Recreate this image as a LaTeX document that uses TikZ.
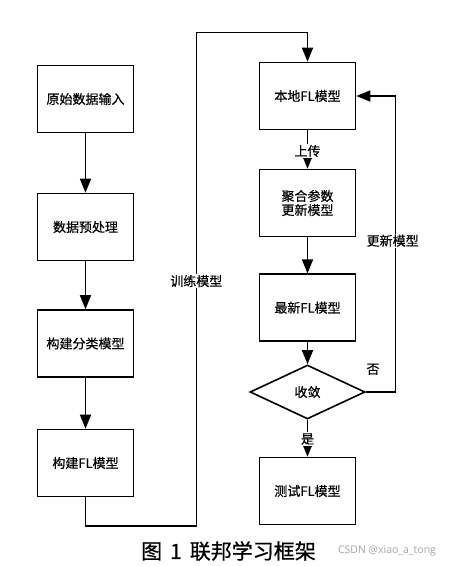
\documentclass[tikz,border=0pt]{standalone}
\usepackage{fontspec}
\setmainfont{Noto Sans CJK SC}
\newfontfamily\cjk[FakeBold=0.4]{Noto Sans CJK SC}
\newfontfamily\capfont[FakeBold=0.6]{Noto Sans CJK SC}
\newfontfamily\wmfont{Open Sans}
\usetikzlibrary{shapes.geometric,arrows.meta}
\begin{document}
\begin{tikzpicture}[x=1pt,y=-1pt,
  box/.style={draw,line width=1.6pt,minimum width=96pt,minimum height=67pt,inner sep=0pt,align=center,font=\fontsize{13}{15}\cjk},
  dia/.style={draw,diamond,line width=1.6pt,minimum width=115pt,minimum height=54pt,inner sep=0pt,font=\fontsize{13}{15}\cjk},
  arr/.style={line width=1.6pt,-{Triangle[length=14pt,width=11pt]}},
  lbl/.style={fill=white,inner sep=1pt,font=\fontsize{13}{15}\cjk}]
\useasboundingbox (0,0) rectangle (455,566);
\fill[white] (0,0) rectangle (455,566);
\node[box] (b1) at (85.5,99) {原始数据输入};
\node[box] (b2) at (85.5,227) {数据预处理};
\node[box] (b3) at (85.5,343.5) {构建分类模型};
\node[box] (b4) at (85.5,463) {构建FL模型};
\node[box] (r1) at (307.5,96) {本地FL模型};
\node[box] (r2) at (307.5,203) {聚合参数\\[-1pt]更新模型};
\node[box] (r3) at (307.5,307.7) {最新FL模型};
\node[dia] (d) at (307.5,392) {收敛};
\node[box] (r5) at (307.5,491) {测试FL模型};
\draw[arr] (b1) -- (b2);
\draw[arr] (b2) -- (b3);
\draw[arr] (b3) -- (b4);
\coordinate (c2) at (196.3,526);
\coordinate (c3) at (196.3,32.3);
\draw[arr] (b4.south) |- (c2) -- (c3) -| (r1.north);
\node[lbl] (t1) at (196.3,281) {训练模型};
\draw[arr] (r1) -- (r2);
\node[lbl] (t2) at (307.5,151) {上传};
\draw[arr] (r2) -- (r3);
\draw[arr] (r3) -- (d);
\draw[arr] (d) -- (r5);
\node[lbl] (t3) at (307.5,439) {是};
\coordinate (f2) at (395.3,96);
\draw[arr] (d.east) -| (f2) -- (r1.east);
\node[lbl] (t4) at (392.7,240.7) {更新模型};
\node[font=\fontsize{13}{15}\cjk,inner sep=1pt] (t5) at (373,369.3) {否};
\node[font=\fontsize{21}{23}\capfont,inner sep=0pt] (cap) at (228.5,551) {图\hspace{8pt}1\hspace{8pt}联邦学习框架};
\node[font=\fontsize{10.5}{12}\wmfont,text=gray!70,inner sep=0pt] (wm) at (387,551) {CSDN @xiao\_a\_tong};
\end{tikzpicture}
\end{document}
